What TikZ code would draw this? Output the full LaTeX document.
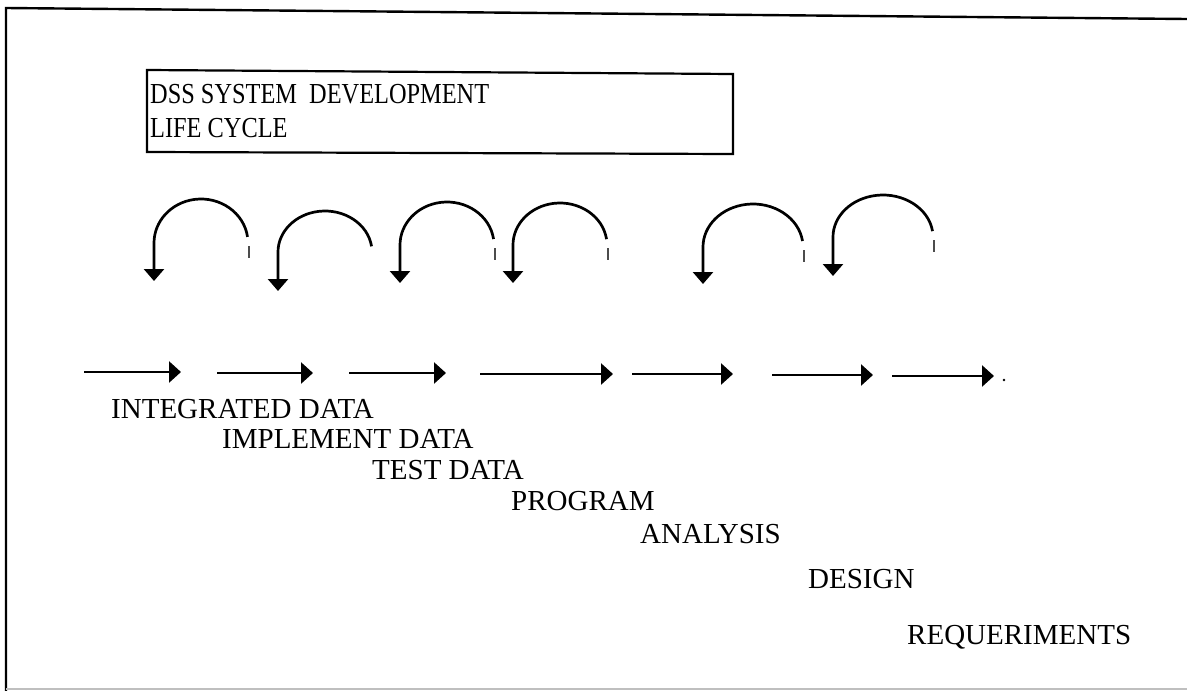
\documentclass[tikz,border=0pt]{standalone}
\usepackage{fontspec}
\setmainfont{Liberation Serif}
\usetikzlibrary{arrows.meta}
\begin{document}
\begin{tikzpicture}[x=1pt,y=-1pt,
  ink/.style={line width=2.7pt,black},
  flowarrow/.style={ink,-{Triangle[length=12pt,width=21pt]}},
  looparrow/.style={ink,-{Triangle[length=12pt,width=20pt]}},
  tickmark/.style={line width=1.4pt,black!70},
  label/.style={anchor=base west,inner sep=0pt,font=\fontsize{29}{33}\selectfont},
  titletext/.style={anchor=base west,inner sep=0pt,font=\fontsize{29}{34}\selectfont}]
\useasboundingbox (0,0) rectangle (1187,691);
\fill[white] (0,0) rectangle (1187,691);

% outer frame
\draw[line width=2.4pt] (1187,19) -- (6,8) -- (6,691);
\draw[line width=1.5pt,black!25] (6,689) -- (1187,689);

% title box
\draw[line width=2.2pt] (147,70) -- (733,74) -- (733,154) -- (147,152) -- cycle;
\node[titletext] (t1) at (150,103) {\scalebox{0.84}[1]{DSS SYSTEM\ \ DEVELOPMENT}};
\node[titletext] (t2) at (150,137) {\scalebox{0.84}[1]{LIFE CYCLE}};

% looping arrows: arc over the top, then down to the arrow tip
\foreach \n/\cx/\cy/\rx/\ry/\tip/\tick in {
   1/201/243/47/44/281/1,
   2/325/252/47/41/291/0,
   3/447/245/47/43/283/1,
   4/560/245/47/42/283/1,
   5/753/247/50/43/284/1,
   6/883/237/50/42/276/1}{
  \coordinate (l\n s) at ({\cx+\rx*cos(8)},{\cy-\ry*sin(8)});
  \coordinate (l\n e) at ({\cx-\rx},\tip);
  \draw[looparrow] (l\n s) arc[start angle=-8,end angle=-180,x radius=\rx,y radius=\ry]
       -- (l\n e);
  \ifnum\tick=1
    \draw[tickmark] ({\cx+\rx+1},{\cy+3}) -- ({\cx+\rx+1},{\cy+15});
  \fi
}

% row of flow arrows
\foreach \n/\xa/\xb/\yy in {
   1/84/181/372, 2/217/313/373, 3/349/446/373, 4/480/613/374,
   5/632/733/374, 6/772/873/375, 7/892/994/376}{
  \coordinate (f\n s) at (\xa,\yy);
  \coordinate (f\n e) at (\xb,\yy);
  \draw[flowarrow] (f\n s) -- (f\n e);
}
\fill (1004,380) circle (1.3);

% stage labels
\node[label] (s1) at (111,418) {INTEGRATED DATA};
\node[label] (s2) at (222,448) {IMPLEMENT DATA};
\node[label] (s3) at (372,479) {TEST DATA};
\node[label] (s4) at (511,510) {PROGRAM};
\node[label] (s5) at (640,543) {ANALYSIS};
\node[label] (s6) at (808,588) {DESIGN};
\node[label] (s7) at (907,644) {REQUERIMENTS};
\end{tikzpicture}
\end{document}
